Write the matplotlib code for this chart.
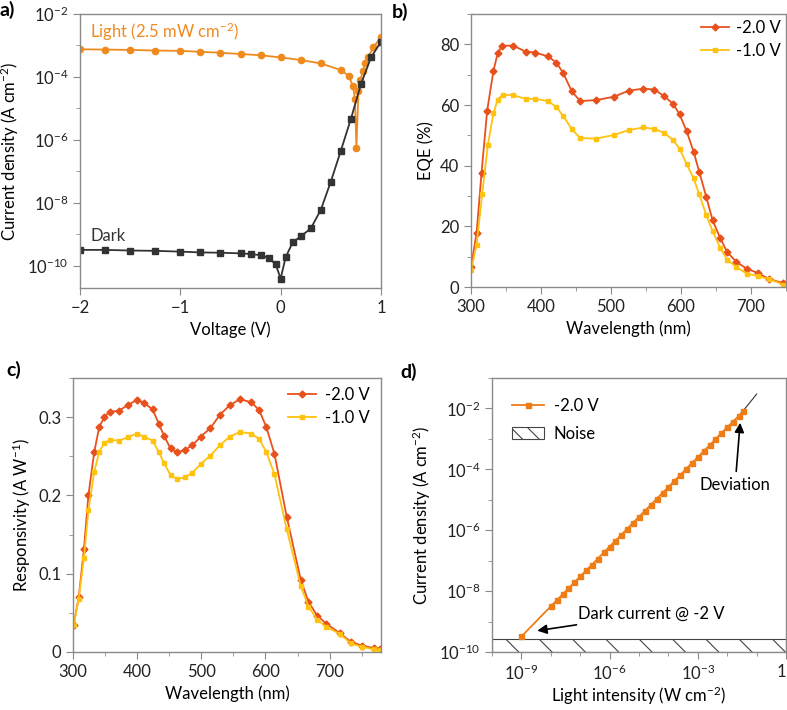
import numpy as np
import matplotlib
matplotlib.use("Agg")
import matplotlib.pyplot as plt
from matplotlib.patches import Patch
from matplotlib.lines import Line2D
from matplotlib.ticker import LogLocator, MultipleLocator, NullFormatter

plt.rcParams['font.family'] = ['Lato', 'DejaVu Sans']
plt.rcParams['mathtext.fontset'] = 'custom'
plt.rcParams['mathtext.rm'] = 'Lato'
plt.rcParams['mathtext.it'] = 'Lato:italic'
plt.rcParams['font.size'] = 12
plt.rcParams['hatch.linewidth'] = 0.8

# ---- panel a: J-V curves ----
dark_voltage = [-2.0, -1.75, -1.5, -1.25, -1.0, -0.8, -0.6, -0.4, -0.3, -0.2, -0.12, -0.05,
                0.0, 0.05, 0.12, 0.2, 0.3, 0.4, 0.5, 0.6, 0.7, 0.8, 0.9, 1.0]
dark_log_current = [-9.49, -9.49, -9.51, -9.52, -9.545, -9.57, -9.58, -9.60, -9.62, -9.66, -9.74, -9.95,
                    -10.40, -9.72, -9.25, -9.06, -8.81, -8.22, -7.32, -6.34, -5.33, -4.23, -3.38, -2.88]
light_voltage = [-2.0, -1.75, -1.5, -1.25, -1.0, -0.8, -0.6, -0.4, -0.2, 0.0, 0.2, 0.4, 0.6,
                 0.68, 0.72, 0.74, 0.755, 0.775, 0.795, 0.82, 0.845, 0.87, 0.925, 1.0]
light_log_current = [-3.12, -3.13, -3.14, -3.16, -3.17, -3.20, -3.23, -3.27, -3.31, -3.38, -3.46, -3.57, -3.78,
                     -3.97, -4.29, -4.70, -6.24, -4.43, -4.10, -3.80, -3.57, -3.38, -3.06, -2.72]

# ---- panel b: EQE ----
eqe_wl_2v = [300, 308, 315, 323, 332, 338, 344, 360, 378, 392, 410, 422, 432, 444, 456, 478, 504,
             525, 546, 562, 576, 589, 598, 608, 618, 626, 636, 645, 656, 666, 679, 694, 710, 726, 746]
eqe_2v = [6.5, 17.8, 37.5, 58.0, 71.2, 77.0, 79.5, 79.6, 77.6, 77.3, 76.0, 74.0, 70.4, 64.5, 61.3, 61.6, 62.7,
          64.7, 65.4, 65.1, 62.9, 60.3, 56.9, 51.4, 44.6, 38.0, 29.8, 22.1, 16.1, 11.5, 8.3, 6.0, 4.6, 2.6, 1.3]
eqe_wl_1v = [300, 308, 316, 324, 332, 338, 345, 360, 378, 392, 410, 422, 432, 444, 456, 478, 504,
             525, 546, 562, 576, 589, 598, 608, 618, 626, 636, 645, 656, 666, 679, 694, 710, 726, 746]
eqe_1v = [5.5, 13.9, 30.7, 46.8, 57.2, 61.8, 63.3, 63.3, 62.0, 62.0, 61.3, 59.3, 56.3, 52.0, 49.1, 48.9, 50.1,
          51.7, 52.6, 52.1, 50.8, 48.4, 45.6, 40.5, 35.8, 30.6, 23.8, 18.5, 12.9, 9.0, 6.6, 4.4, 3.6, 2.6, 0.8]

# ---- panel c: responsivity ----
resp_wl = [301, 309, 317, 324, 333, 341, 349, 357, 371, 385, 399, 411, 424, 434, 442, 452, 462, 474, 486,
           499, 514, 529, 544, 560, 578, 590, 601, 614, 633, 655, 667, 681, 695, 716, 733, 751, 769, 778]
resp_2v = [0.035, 0.070, 0.131, 0.200, 0.255, 0.288, 0.300, 0.307, 0.308, 0.315, 0.322, 0.318, 0.310, 0.291,
           0.276, 0.260, 0.255, 0.258, 0.264, 0.275, 0.286, 0.303, 0.315, 0.323, 0.319, 0.309, 0.288, 0.253,
           0.173, 0.092, 0.064, 0.046, 0.036, 0.024, 0.013, 0.008, 0.005, 0.0035]
resp_1v = [0.035, 0.068, 0.120, 0.181, 0.230, 0.256, 0.267, 0.271, 0.270, 0.274, 0.279, 0.275, 0.270, 0.255,
           0.241, 0.226, 0.221, 0.223, 0.229, 0.240, 0.251, 0.264, 0.275, 0.281, 0.279, 0.272, 0.256, 0.227,
           0.157, 0.084, 0.058, 0.041, 0.032, 0.023, 0.011, 0.0065, 0.0035, 0.002]

# ---- panel d: linearity ----
lin_log_intensity = [-9.0, -8.0, -7.8, -7.6, -7.4, -7.2, -7.0, -6.8, -6.6, -6.4, -6.2, -6.0, -5.8, -5.6,
                     -5.4, -5.2, -5.0, -4.8, -4.6, -4.4, -4.2, -4.0, -3.8, -3.6, -3.4, -3.2, -3.0, -2.8,
                     -2.6, -2.4, -2.2, -2.0, -1.8, -1.6, -1.45]
lin_log_current = [-9.49, -8.50, -8.30, -8.11, -7.91, -7.71, -7.52, -7.32, -7.13, -6.93, -6.73, -6.54, -6.34,
                   -6.15, -5.95, -5.75, -5.56, -5.36, -5.17, -4.97, -4.77, -4.58, -4.38, -4.19, -3.99, -3.79,
                   -3.60, -3.40, -3.21, -3.01, -2.81, -2.62, -2.43, -2.24, -2.07]
fit_log_intensity = [-1.45, -1.0]
fit_log_current = [-2.07, -1.53]
noise_level = [1e-10, 2.7e-10]

orange = '#EF8A1E'
orange_d = '#EE7D16'
red = '#E8501C'
yellow = '#FFC20F'
dark = '#333333'
spine_col = '#8a8a8a'


def style(ax):
    for s in ax.spines.values():
        s.set_color(spine_col)
        s.set_linewidth(1.0)
    ax.tick_params(which='both', direction='out', color=spine_col, labelcolor='#222222', labelsize=12)
    ax.tick_params(which='major', length=5)
    ax.tick_params(which='minor', length=3)


fig = plt.figure(figsize=(7.87, 7.10), dpi=100)
W, H = 787, 710


def add_ax(l, t, r, b):
    return fig.add_axes([l / W, 1 - b / H, (r - l) / W, (b - t) / H])


# a
ax = add_ax(80, 14, 381, 288)
ax.plot(light_voltage, np.power(10.0, light_log_current), '-o', color=orange, ms=4.5, lw=1.3)
ax.plot(dark_voltage, np.power(10.0, dark_log_current), '-s', color=dark, ms=4, lw=1.3)
ax.set_yscale('log')
ax.set_xlim(-2, 1)
ax.set_ylim(10 ** -10.7, 1e-2)
ax.yaxis.set_major_locator(LogLocator(base=100, numticks=10))
ax.yaxis.set_minor_locator(LogLocator(base=10, subs=[1.0], numticks=20))
ax.yaxis.set_minor_formatter(NullFormatter())
ax.set_xticks([-2, -1, 0, 1])
ax.set_xticklabels(['\u22122', '\u22121', '0', '1'])
ax.set_xlabel('Voltage (V)')
ax.set_ylabel('Current density (A cm$^{-2}$)')
ax.text(-1.9, 10 ** -2.56, 'Light (2.5 mW cm$^{-2}$)', color=orange, fontsize=12, va='center')
ax.text(-1.9, 10 ** -9.05, 'Dark', color=dark, fontsize=12, va='center')
style(ax)
fig.text(0.0, 1 - 10 / H, 'a)', fontsize=14, fontweight='bold', va='center')

# b
ax = add_ax(471, 14, 786, 287)
ax.plot(eqe_wl_2v, eqe_2v, '-D', color=red, ms=3.5, lw=1.3, label='-2.0 V')
ax.plot(eqe_wl_1v, eqe_1v, '-s', color=yellow, ms=3.5, lw=1.3, label='-1.0 V')
ax.set_xlim(300, 750)
ax.set_ylim(0, 90)
ax.set_yticks([0, 20, 40, 60, 80])
ax.xaxis.set_minor_locator(MultipleLocator(50))
ax.yaxis.set_minor_locator(MultipleLocator(10))
ax.set_xlabel('Wavelength (nm)')
ax.set_ylabel('EQE (%)')
ax.legend(loc='upper right', bbox_to_anchor=(1.02, 1.02), frameon=False, fontsize=12,
          handlelength=1.7, handletextpad=0.4, borderaxespad=0.3, labelspacing=0.4)
style(ax)
fig.text(392 / W, 1 - 12 / H, 'b)', fontsize=14, fontweight='bold', va='center')

# c
ax = add_ax(73, 378, 381, 652)
ax.plot(resp_wl, resp_2v, '-D', color=red, ms=3.5, lw=1.3, label='-2.0 V')
ax.plot(resp_wl, resp_1v, '-s', color=yellow, ms=3.5, lw=1.3, label='-1.0 V')
ax.set_xlim(300, 780)
ax.set_ylim(0, 0.35)
ax.set_yticks([0, 0.1, 0.2, 0.3])
ax.set_yticklabels(['0', '0.1', '0.2', '0.3'])
ax.xaxis.set_minor_locator(MultipleLocator(50))
ax.yaxis.set_minor_locator(MultipleLocator(0.05))
ax.set_xlabel('Wavelength (nm)')
ax.set_ylabel('Responsivity (A W$^{-1}$)')
ax.legend(loc='upper right', bbox_to_anchor=(1.0, 1.01), frameon=False, fontsize=12,
          handlelength=1.7, handletextpad=0.5, borderaxespad=0.3, labelspacing=0.4)
style(ax)
fig.text(6 / W, 1 - 370 / H, 'c)', fontsize=14, fontweight='bold', va='center')

# d
ax = add_ax(492, 378, 786, 652)
ax.axhspan(noise_level[0], noise_level[1], facecolor='white', edgecolor='#444444', hatch='\\', lw=0.8, zorder=1)
ax.plot(np.power(10.0, fit_log_intensity), np.power(10.0, fit_log_current), '-', color='#333333', lw=0.8, zorder=2)
ax.plot(np.power(10.0, lin_log_intensity), np.power(10.0, lin_log_current), '-s', color=orange_d,
        ms=3.6, lw=1.3, zorder=3)
ax.set_xscale('log')
ax.set_yscale('log')
ax.set_xlim(1e-10, 1)
ax.set_ylim(1e-10, 1e-1)
ax.xaxis.set_minor_locator(LogLocator(base=10, subs=[1.0], numticks=20))
ax.xaxis.set_minor_formatter(NullFormatter())
ax.yaxis.set_major_locator(LogLocator(base=100, numticks=10))
ax.yaxis.set_minor_locator(LogLocator(base=10, subs=[1.0], numticks=20))
ax.yaxis.set_minor_formatter(NullFormatter())
ax.set_xticks([1e-9, 1e-6, 1e-3, 1])
ax.set_xticklabels(['$\\mathdefault{10^{-9}}$', '$\\mathdefault{10^{-6}}$', '$\\mathdefault{10^{-3}}$', '1'])
ax.get_xticklabels()[-1].set_ha('right')
ax.set_xlabel('Light intensity (W cm$^{-2}$)', labelpad=1)
ax.set_ylabel('Current density (A cm$^{-2}$)')
ax.annotate('Dark current @ -2 V', xy=(10 ** -8.46, 10 ** -9.30), xytext=(10 ** -7.07, 10 ** -8.74),
            ha='left', va='center', fontsize=12,
            arrowprops=dict(arrowstyle='-|>', color='black', lw=1.2, mutation_scale=14, shrinkB=0))
ax.annotate('Deviation', xy=(10 ** -1.56, 10 ** -2.47), xytext=(10 ** -1.73, 10 ** -4.51),
            ha='center', va='center', fontsize=12,
            arrowprops=dict(arrowstyle='-|>', color='black', lw=1.2, mutation_scale=14, shrinkB=0))
handles = [Line2D([], [], color=orange_d, marker='s', ms=3.6, lw=1.3),
           Patch(facecolor='white', edgecolor='#444444', hatch='\\\\', lw=0.8)]
ax.legend(handles, ['-2.0 V', 'Noise'], loc='upper left', frameon=False, fontsize=12,
          handlelength=1.9, handletextpad=0.6, borderaxespad=0.8, labelspacing=0.7)
style(ax)
fig.text(400 / W, 1 - 372 / H, 'd)', fontsize=14, fontweight='bold', va='center')

fig.savefig('out.png', dpi=100)
